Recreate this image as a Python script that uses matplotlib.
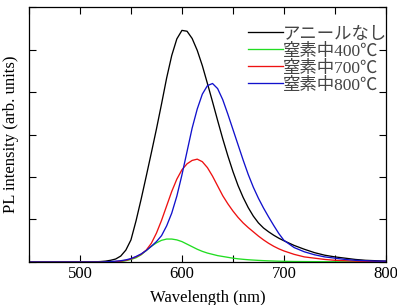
import matplotlib
matplotlib.use('Agg')
import matplotlib.pyplot as plt
from matplotlib.ticker import MultipleLocator, NullFormatter

# wavelength (nm) and PL intensity
wavelength = [450, 480, 510, 520, 525, 530, 535, 540, 545, 550, 555, 560, 565, 570, 575,
              580, 585, 590, 595, 600, 605, 610, 615, 620, 625, 630, 635, 640, 645, 650,
              655, 660, 665, 670, 675, 680, 685, 690, 695, 700, 710, 720, 730, 740, 750,
              760, 770, 780, 790, 800]

no_anneal = [0, 0, 0, 0.01, 0.02, 0.04, 0.07, 0.14, 0.28, 0.52, 0.97, 1.48, 2.02, 2.57, 3.13,
             3.72, 4.33, 4.86, 5.25, 5.45, 5.43, 5.26, 4.98, 4.62, 4.2, 3.77, 3.33, 2.9, 2.5, 2.13,
             1.8, 1.52, 1.28, 1.08, 0.92, 0.8, 0.71, 0.63, 0.56, 0.5, 0.39, 0.3, 0.22, 0.16, 0.12,
             0.09, 0.06, 0.04, 0.03, 0.02]

n2_400 = [0, 0, 0, 0, 0, 0, 0.005, 0.01, 0.03, 0.06, 0.1, 0.17, 0.27, 0.37, 0.45,
          0.51, 0.54, 0.54, 0.52, 0.48, 0.42, 0.36, 0.3, 0.25, 0.21, 0.18, 0.15, 0.13, 0.11, 0.09,
          0.075, 0.063, 0.053, 0.045, 0.038, 0.032, 0.027, 0.023, 0.019, 0.016, 0.012, 0.01, 0.008, 0.007, 0.006,
          0.005, 0.005, 0.005, 0.005, 0.005]

n2_700 = [0, 0, 0, 0, 0, 0.005, 0.01, 0.02, 0.04, 0.07, 0.12, 0.18, 0.28, 0.44, 0.68,
          0.98, 1.32, 1.66, 1.95, 2.17, 2.31, 2.39, 2.42, 2.36, 2.22, 2.02, 1.79, 1.56, 1.37, 1.2,
          1.05, 0.92, 0.81, 0.71, 0.61, 0.52, 0.44, 0.37, 0.31, 0.26, 0.18, 0.12, 0.09, 0.06, 0.04,
          0.03, 0.02, 0.015, 0.01, 0.01]

n2_800 = [0, 0, 0, 0, 0.005, 0.01, 0.02, 0.03, 0.05, 0.08, 0.13, 0.19, 0.27, 0.37, 0.48,
          0.62, 0.85, 1.15, 1.55, 2.05, 2.6, 3.15, 3.6, 3.95, 4.15, 4.2, 4.08, 3.82, 3.48, 3.12,
          2.76, 2.4, 2.06, 1.76, 1.5, 1.27, 1.06, 0.86, 0.67, 0.51, 0.34, 0.24, 0.17, 0.12, 0.09,
          0.06, 0.04, 0.03, 0.02, 0.02]

labels = ['アニールなし', '窒素中400℃', '窒素中700℃', '窒素中800℃']
colors = ['#000000', '#22dd22', '#ee1111', '#1111cc']

plt.rcParams['font.family'] = ['Liberation Serif', 'Noto Sans CJK JP']

fig = plt.figure(figsize=(3.97, 3.05), dpi=100)
ax = fig.add_axes([0.073, 0.141, 0.899, 0.836])

#plot the spectra
for series, label, color in zip([no_anneal, n2_400, n2_700, n2_800], labels, colors):
    ax.plot(wavelength, series, color=color, lw=0.95, label=label)

ax.set_xlim(450, 800)
ax.set_ylim(0, 6)

#ticks on all sides, pointing in
ax.xaxis.set_major_locator(MultipleLocator(100))
ax.xaxis.set_minor_locator(MultipleLocator(50))
ax.yaxis.set_major_locator(MultipleLocator(1))
ax.yaxis.set_major_formatter(NullFormatter())
ax.tick_params(which='both', direction='in', top=True, right=True, width=0.8)
ax.tick_params(which='major', length=5, labelsize=12, pad=3)
ax.tick_params(which='minor', length=5)
for spine in ax.spines.values():
    spine.set_linewidth(0.9)

ax.set_xlabel('Wavelength (nm)', fontsize=12, labelpad=6)
ax.set_ylabel('PL intensity (arb. units)', fontsize=12, labelpad=4)

leg = ax.legend(loc='upper right', bbox_to_anchor=(1.032, 0.965), frameon=False, fontsize=12.5,
                handlelength=2.0, handletextpad=0.0, labelspacing=0.05, borderaxespad=0.2)
for text in leg.get_texts():
    text.set_color('#444444')

fig.savefig('out.png', dpi=100)
